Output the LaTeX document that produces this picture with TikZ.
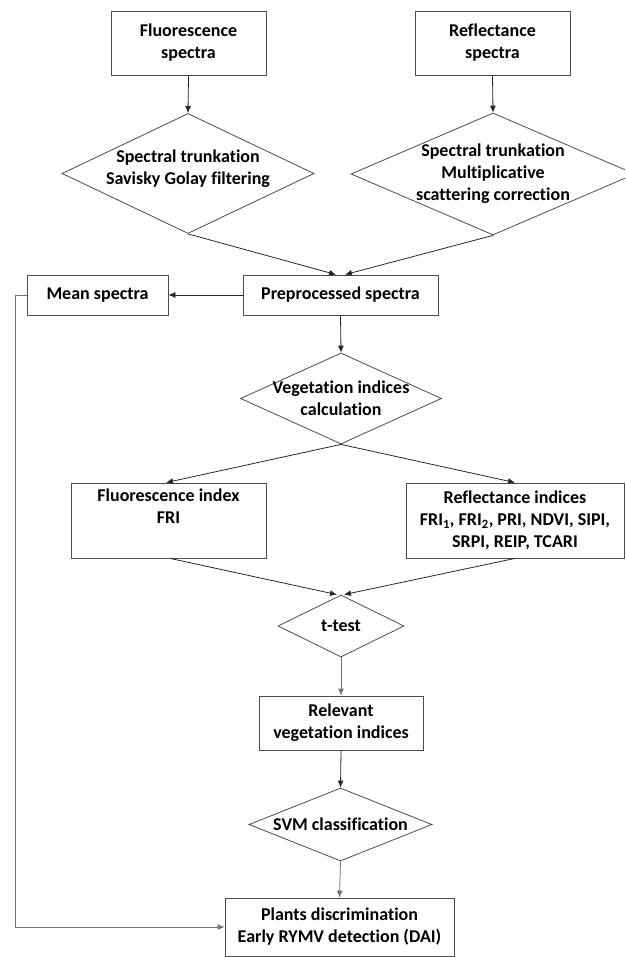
\documentclass[tikz,border=0pt]{standalone}
\usepackage{fontspec}
\setmainfont{Carlito}[Ligatures=NoCommon]
\usetikzlibrary{shapes.geometric,arrows.meta}
\begin{document}
\begin{tikzpicture}[x=1pt,y=-1pt,
  font=\bfseries\fontsize{18}{22}\selectfont,
  block/.style={draw=black!70,line width=0.8pt,rectangle,align=center,inner sep=0pt},
  decision/.style={draw=black!70,line width=0.8pt,diamond,inner sep=0pt},
  dtext/.style={align=center,inner sep=0pt},
  flow/.style={draw=black!85,line width=0.8pt,-{Latex[length=7pt,width=6pt]}},
  flowgray/.style={flow,draw=black!55}]
  \clip (0,0) rectangle (625,957);
  % inputs
  \path (188.5,43) node[block,minimum width=155pt,minimum height=64pt] (fluo) {Fluorescence\\spectra};
  \path (492.5,43) node[block,minimum width=155pt,minimum height=64pt] (refl) {Reflectance\\spectra};
  % preprocessing
  \path (188,173.5) node[decision,minimum width=252pt,minimum height=120pt] (trunc1) {};
  \path (188,169) node[dtext] (trunc1txt) {Spectral trunkation\\Savisky Golay filtering};
  \path (493,174) node[decision,minimum width=284pt,minimum height=122pt] (trunc2) {};
  \path (493,174) node[dtext] (trunc2txt) {Spectral trunkation\\Multiplicative\\scattering correction};
  \path (340.5,295) node[block,minimum width=195pt,minimum height=40pt] (prep) {Preprocessed spectra};
  \path (97.5,295) node[block,minimum width=141pt,minimum height=40pt] (mean) {Mean spectra};
  % indices
  \path (341,398.5) node[decision,minimum width=201pt,minimum height=91pt] (veg) {};
  \path (341,398.5) node[dtext] (vegtxt) {Vegetation indices\\calculation};
  \path (168.5,520.5) node[block,minimum width=195pt,minimum height=75pt] (fidx) {Fluorescence index\\FRI\\\strut};
  \path (515,520.5) node[block,minimum width=218pt,minimum height=75pt] (ridx)
    {Reflectance indices\\FRI\textsubscript{1}, FRI\textsubscript{2}, PRI, NDVI, SIPI,\\SRPI, REIP, TCARI};
  % selection and classification
  \path (341,626) node[decision,minimum width=126pt,minimum height=62pt] (ttest) {};
  \path (341,626) node[dtext] (ttesttxt) {t-test};
  \path (341,723) node[block,minimum width=164pt,minimum height=54pt] (relv) {Relevant\\vegetation indices};
  \path (340.5,824.5) node[decision,minimum width=183pt,minimum height=73pt] (svm) {};
  \path (340.5,824.5) node[dtext] (svmtxt) {SVM classification};
  \path (339.5,927) node[block,minimum width=229pt,minimum height=58pt] (plants)
    {Plants discrimination\\Early RYMV detection (DAI)};
  % connectors
  \draw[flow] (fluo.south) -- (trunc1.north);
  \draw[flow] (refl.south) -- (trunc2.north);
  \draw[flow] (trunc1.south) -- ([xshift=-4.5pt]prep.north);
  \draw[flow] (trunc2.south) -- ([xshift=4.5pt]prep.north);
  \draw[flow] (prep.west) -- (mean.east);
  \draw[flow] (prep.south) -- (veg.north);
  \draw[flow] (veg.south) -- ([xshift=-2.5pt]fidx.north);
  \draw[flow] (veg.south) -- (ridx.north);
  \draw[flow] ([xshift=1.5pt]fidx.south) -- ([xshift=-4pt]ttest.north);
  \draw[flow] (ridx.south) -- ([xshift=3pt]ttest.north);
  \draw[flowgray] (ttest.south) -- (relv.north);
  \draw[flow] (relv.south) -- (svm.north);
  \draw[flowgray] (svm.south) -- (plants.north);
  \draw[flowgray] (mean.west) -- ++(-11,0) |- (plants.west);
\end{tikzpicture}
\end{document}
